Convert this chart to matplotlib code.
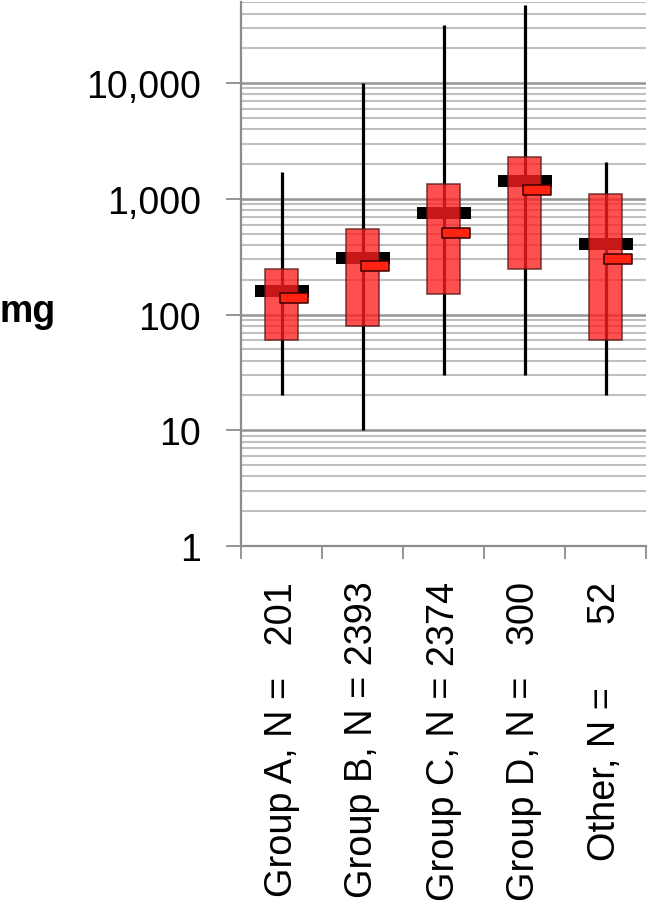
import matplotlib
matplotlib.use("Agg")
import matplotlib.pyplot as plt
from matplotlib.path import Path
from matplotlib.ticker import FixedLocator, NullFormatter, FuncFormatter
import numpy as np

plt.rcParams['font.family'] = ['Liberation Sans', 'DejaVu Sans']

categories = ["Group A, N =   201", "Group B, N = 2393", "Group C, N = 2374",
              "Group D, N =   300", "Other, N =      52"]
whisker_low = [20, 10, 30, 30, 20]
box_low = [60, 80, 150, 250, 60]
black_mark = [160, 310, 750, 1420, 410]
red_mark = [140, 265, 510, 1200, 300]
box_high = [250, 550, 1350, 2300, 1100]
whisker_high = [1700, 10000, 32000, 47000, 2100]
ytick_vals = [1, 10, 100, 1000, 10000]

fig = plt.figure(figsize=(6.5, 9.12), dpi=100)
ax = fig.add_axes([241/650, 1-547/912, 405/650, (547-3.3)/912])
ax.set_yscale('log')
ax.set_ylim(1, 50000)
ax.set_xlim(0.5, len(categories) + 0.5)

x = np.arange(1, len(categories) + 1)

# grid
ax.yaxis.set_major_locator(FixedLocator(ytick_vals))
minor = [m * 10**e for e in range(0, 5) for m in range(2, 10) if m * 10**e <= 50000]
ax.yaxis.set_minor_locator(FixedLocator(minor))
ax.yaxis.set_minor_formatter(NullFormatter())
ax.yaxis.set_major_formatter(FuncFormatter(lambda v, p: f"{int(v):,}"))
ax.grid(True, which='minor', axis='y', color='#c0c0c0', lw=1.5, zorder=0)
ax.grid(True, which='major', axis='y', color='#959595', lw=1.8, zorder=0)
ax.set_axisbelow(True)

# whiskers
ax.vlines(x, whisker_low, whisker_high, color='black', lw=2.3, zorder=2)

def rect_marker(w, h):
    return Path([(-w/2, -h/2), (w/2, -h/2), (w/2, h/2), (-w/2, h/2), (-w/2, -h/2)],
                [Path.MOVETO, Path.LINETO, Path.LINETO, Path.LINETO, Path.CLOSEPOLY])

# black marker
ax.plot(x, black_mark, ls='none', marker=rect_marker(54, 12), markersize=38.5,
        markerfacecolor='black', markeredgewidth=0, zorder=3)

# boxes
heights = [h - l for h, l in zip(box_high, box_low)]
ax.bar(x, heights, bottom=box_low, width=0.4, color=(1.0, 0.12, 0.12), alpha=0.78,
       edgecolor='#5a1a1a', linewidth=1.2, zorder=4)

# red marker
ax.plot(x + 0.16, red_mark, ls='none', marker=rect_marker(26, 10), markersize=19.5,
        markerfacecolor='#ff2412', markeredgecolor='#3a0000', markeredgewidth=1.1, zorder=5)

# spines
for s in ['top', 'right']:
    ax.spines[s].set_visible(False)
for s in ['left', 'bottom']:
    ax.spines[s].set_color('#8c8c8c')
    ax.spines[s].set_linewidth(1.6)

ax.tick_params(axis='y', which='major', length=11, width=1.3, color='#8c8c8c',
               labelsize=27, pad=18)
ax.tick_params(axis='y', which='minor', length=0)

ax.set_xticks(x)
ax.set_xticklabels(categories, rotation=90, va='top', ha='center')
ax.set_xticks(np.arange(0.5, len(categories) + 1, 1.0), minor=True)
ax.tick_params(axis='x', which='major', length=0, labelsize=27.3, pad=25)
ax.tick_params(axis='x', which='minor', length=9.5, width=1.3, color='#8c8c8c')

ax.set_ylabel('mg', rotation=0, fontsize=27, fontweight='bold', labelpad=0,
              ha='left', va='center')
ax.yaxis.set_label_coords(-241/405, (547-312)/543.7)

fig.savefig('out.png', dpi=100)
